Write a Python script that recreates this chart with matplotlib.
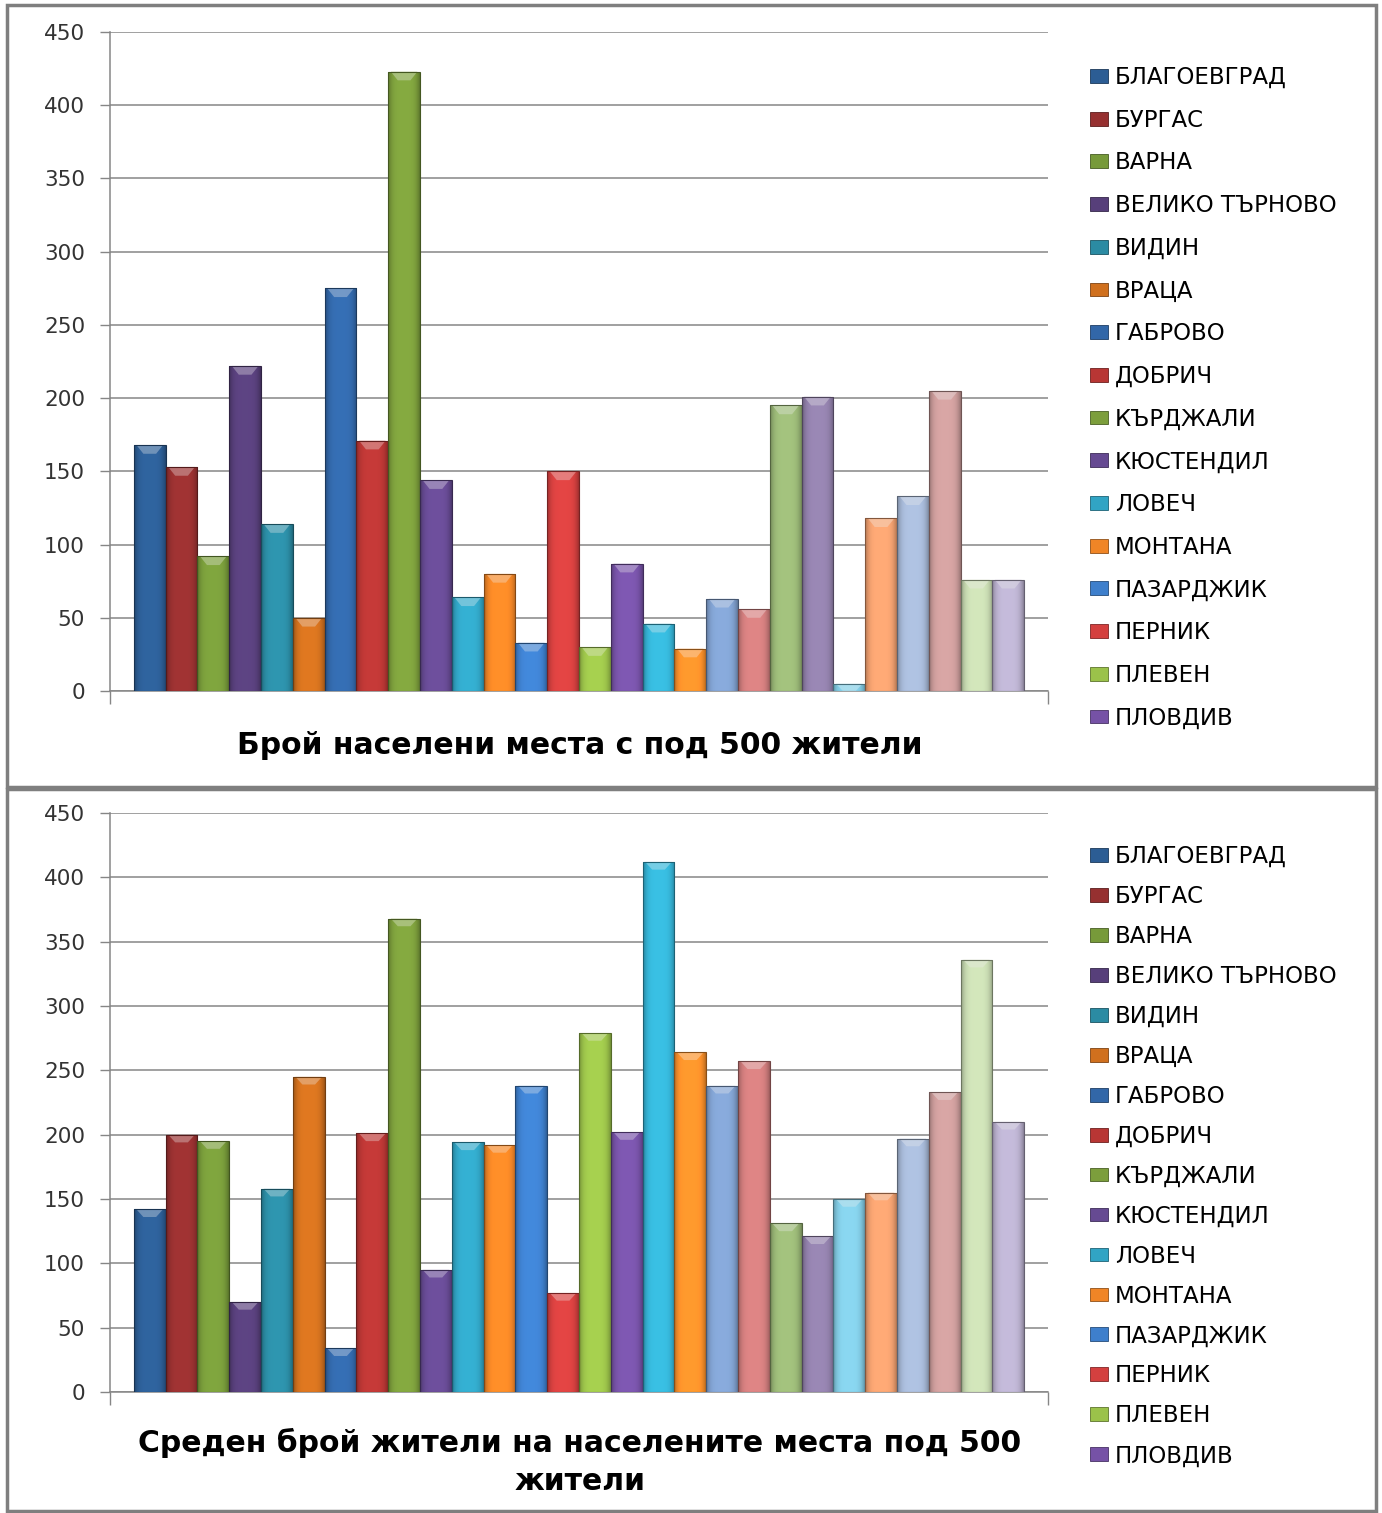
import numpy as np
import matplotlib
matplotlib.use('Agg')
import matplotlib.pyplot as plt
from matplotlib.patches import Rectangle, Polygon
from matplotlib.colors import to_rgb

plt.rcParams['font.family'] = ['DejaVu Sans']

# --- данни ---
oblasti = ['БЛАГОЕВГРАД', 'БУРГАС', 'ВАРНА', 'ВЕЛИКО ТЪРНОВО', 'ВИДИН', 'ВРАЦА',
           'ГАБРОВО', 'ДОБРИЧ', 'КЪРДЖАЛИ', 'КЮСТЕНДИЛ', 'ЛОВЕЧ', 'МОНТАНА',
           'ПАЗАРДЖИК', 'ПЕРНИК', 'ПЛЕВЕН', 'ПЛОВДИВ', 'РАЗГРАД', 'РУСЕ',
           'СИЛИСТРА', 'СЛИВЕН', 'СМОЛЯН', 'СОФИЯ (СТОЛИЦА)', 'СОФИЯ', 'СТАРА ЗАГОРА',
           'ТЪРГОВИЩЕ', 'ХАСКОВО', 'ШУМЕН', 'ЯМБОЛ']

broi_mesta = [168, 153, 92, 222, 114, 50, 275, 171, 423, 144, 64, 80,
              33, 150, 30, 87, 46, 29, 63, 56, 195, 201, 5, 118,
              133, 205, 76, 76]

sreden_broi = [142, 200, 195, 70, 158, 245, 34, 201, 368, 95, 194, 192,
               238, 77, 279, 202, 412, 264, 238, 257, 131, 121, 150, 155,
               197, 233, 336, 210]

title_top = 'Брой населени места с под 500 жители'
title_bottom = 'Среден брой жители на населените места под 500\nжители'

# цветове в стил Excel 2007
colors = ['#2C5D94', '#963030', '#779A3A', '#573F7A', '#2B8BA3', '#D0701E',
          '#3267A8', '#B83634', '#7C9E3C', '#664A92', '#31A4C4', '#F08526',
          '#3E7FCC', '#D4403F', '#9BC24A', '#7652A6', '#35B2D4', '#F98F2A',
          '#7F9FCD', '#CF7C7C', '#98B575', '#8F7EA8', '#80C8E0', '#EE9E6E',
          '#A3B5D3', '#C99A99', '#C4D6AE', '#B7AECB']

W, H = 1382, 1513
fig = plt.figure(figsize=(W / 100, H / 100), dpi=100)
fig.patch.set_facecolor('white')

grid_col = '#868686'


def draw_panel(ax, values, legend_top, spacing):
    x = np.arange(len(values))
    bars = ax.bar(x, values, width=1.0, color=colors, edgecolor='none', zorder=3)
    # 3D ефект: хоризонтален градиент и светъл връх
    prof = np.linspace(-1, 1, 40)
    shade = 1.08 - 0.32 * prof ** 4
    for b, c, v in zip(bars, colors, values):
        rgb = np.array(to_rgb(c))
        img = np.clip(shade[:, None] * rgb[None, :], 0, 1)[None, :, :]
        x0 = b.get_x()
        x1 = x0 + b.get_width()
        im = ax.imshow(img, extent=[x0, x1, 0, v], aspect='auto', zorder=4,
                       interpolation='bilinear')
        im.set_clip_path(b)
        d = min(6.0, v)
        light = np.clip(rgb * 0.55 + 0.45, 0, 1)
        tri = Polygon([[x0 + 0.08, v], [x1 - 0.08, v], [x1 - 0.3, v - d], [x0 + 0.3, v - d]],
                      closed=True, facecolor=light, edgecolor='none', alpha=0.7, zorder=5)
        ax.add_patch(tri)
        ax.add_patch(Rectangle((x0, 0), b.get_width(), v, fill=False,
                               edgecolor=tuple(rgb * 0.55), lw=0.8, zorder=6))

    xmin, xmax = -1.25, len(values) + 0.25
    ax.set_xlim(xmin, xmax)
    ax.set_ylim(0, 450)
    ax.set_yticks(range(0, 451, 50))
    ax.set_xticks([xmin, xmax])
    ax.set_xticklabels(['', ''])
    ax.tick_params(axis='y', length=7, width=1, color=grid_col, pad=11,
                   labelsize=15.5, labelcolor='#333333')
    ax.tick_params(axis='x', length=9, width=1, color=grid_col)
    ax.grid(axis='y', color=grid_col, linewidth=1.1, zorder=0)
    ax.set_axisbelow(True)
    for s in ['top', 'right']:
        ax.spines[s].set_visible(False)
    for s in ['left', 'bottom']:
        ax.spines[s].set_color(grid_col)
        ax.spines[s].set_linewidth(1.1)

    handles = [Rectangle((0, 0), 1, 1, facecolor=colors[i], edgecolor=tuple(np.array(to_rgb(colors[i])) * 0.6), lw=0.6)
               for i in range(16)]
    ax.legend(handles, oblasti[:16], loc='upper left',
              bbox_to_anchor=(1090 / W, 1 - legend_top / H),
              bbox_transform=fig.transFigure, frameon=False,
              fontsize=16.5, handlelength=0.8, handleheight=0.55,
              handletextpad=0.3, labelspacing=spacing, borderpad=0,
              borderaxespad=0)


# горна графика
ax1 = fig.add_axes([110 / W, 1 - 691 / H, 938 / W, 659 / H])
draw_panel(ax1, broi_mesta, 66, 0.86)
fig.text(580 / W, 1 - 745 / H, title_top, ha='center', va='center',
         fontsize=21.5, fontweight='bold')

# долна графика
ax2 = fig.add_axes([110 / W, 1 - 1392 / H, 938 / W, 579 / H])
draw_panel(ax2, sreden_broi, 845, 0.74)
fig.text(580 / W, 1 - 1462 / H, title_bottom, ha='center', va='center',
         fontsize=21.5, fontweight='bold', linespacing=1.4)

# рамки около двете диаграми
frame_col = '#7F7F7F'
fig.add_artist(Rectangle((7 / W, 1 - 787 / H), 1369 / W, 782 / H, fill=False,
                         edgecolor=frame_col, lw=2.5, transform=fig.transFigure))
fig.add_artist(Rectangle((7 / W, 1 - 1511 / H), 1369 / W, 722 / H, fill=False,
                         edgecolor=frame_col, lw=2.5, transform=fig.transFigure))

plt.savefig('out.png', dpi=100)
